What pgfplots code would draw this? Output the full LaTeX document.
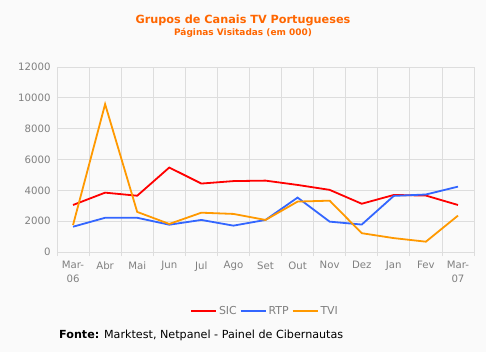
\documentclass[border=0pt]{standalone}
\usepackage{fontspec}
\setmainfont{DejaVu Sans}
\usepackage{pgfplots}
\pgfplotsset{compat=1.18}
\definecolor{bg}{HTML}{FAFAFA}
\definecolor{gridc}{HTML}{DDDDDD}
\definecolor{labc}{HTML}{808080}
\definecolor{sicc}{HTML}{FF0000}
\definecolor{rtpc}{HTML}{3366FF}
\definecolor{tvic}{HTML}{FF9900}
\definecolor{titc}{HTML}{FF6600}
\begin{document}
\begin{tikzpicture}[x=1bp,y=1bp]
\fill[bg] (0,0) rectangle (486,352);
\node[text=titc, font=\bfseries\fontsize{11.3}{13}\selectfont] at (243,332) {Grupos de Canais TV Portugueses};
\node[text=titc, font=\bfseries\fontsize{9}{11}\selectfont] at (243,319) {Páginas Visitadas (em 000)};
\node[anchor=west, inner sep=0pt, font=\fontsize{11.2}{13}\selectfont] at (59,17) {\textbf{Fonte:} Marktest, Netpanel - Painel de Cibernautas};
\begin{axis}[
  at={(57bp,100bp)}, anchor=south west, scale only axis,
  width=417bp, height=185bp,
  xmin=-0.5, xmax=12.5, ymin=0, ymax=12000,
  xtick={0,...,12},
  xticklabels={{Mar-\\06},Abr,Mai,Jun,Jul,Ago,Set,Out,Nov,Dez,Jan,Fev,{Mar-\\07}},
  minor xtick={-0.5,0.5,...,12.5},
  ytick={0,2000,...,12000},
  tick pos=left,
  major tick length=0pt, minor tick length=4bp,
  tick align=outside,
  xminorgrids=true, ymajorgrids=true,
  grid style={draw=gridc, line width=0.8bp},
  minor grid style={draw=gridc, line width=0.8bp},
  minor tick style={draw=gridc, line width=0.8bp},
  axis line style={draw=gridc, line width=0.8bp},
  axis background/.style={fill=bg},
  ticklabel style={font=\fontsize{10.2}{13.5}\selectfont, text=labc},
  x tick label style={align=center, yshift=-6bp},
  y tick label style={xshift=-3bp},
  /pgf/number format/assume math mode=true,
  /pgf/number format/set thousands separator={},
  scaled y ticks=false,
  legend columns=3,
  legend style={at={(0.499,-0.318)}, anchor=center, draw=none, fill=none,
    font=\fontsize{11}{13}\selectfont, text=labc,
    /tikz/every even column/.append style={column sep=1bp}},
  legend image code/.code={\draw[#1] (0bp,0bp) -- (25bp,0bp);},
  every axis plot/.append style={line width=1.8bp},
]
\addplot[sicc] coordinates {(0,3050) (1,3850) (2,3650) (3,5480) (4,4440) (5,4600) (6,4630) (7,4350) (8,4030) (9,3130) (10,3700) (11,3660) (12,3050)};
\addplot[rtpc] coordinates {(0,1640) (1,2220) (2,2220) (3,1770) (4,2080) (5,1710) (6,2080) (7,3530) (8,1970) (9,1780) (10,3640) (11,3730) (12,4240)};
\addplot[tvic] coordinates {(0,1750) (1,9590) (2,2600) (3,1820) (4,2550) (5,2470) (6,2080) (7,3270) (8,3330) (9,1220) (10,900) (11,670) (12,2360)};
\legend{SIC,RTP,TVI}
\end{axis}
\end{tikzpicture}
\end{document}
